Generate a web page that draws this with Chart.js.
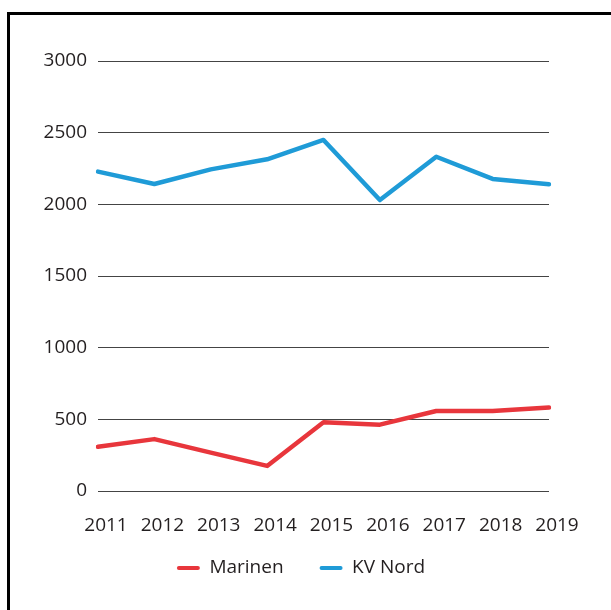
<!DOCTYPE html>
<html>
<head>
<meta charset="utf-8">
<script src="https://cdn.jsdelivr.net/npm/chart.js@4/dist/chart.umd.min.js"></script>
<style>
  html, body { margin: 0; padding: 0; background: #fff; overflow: hidden; }
  #wrap { position: relative; width: 611px; height: 610px; }
  #frame { position: absolute; left: 7px; top: 12px; width: 800px; height: 800px; border-left: 3px solid #000; border-top: 3px solid #000; }
  #c { position: absolute; left: 0; top: 0; }
</style>
</head>
<body>
<div id="wrap">
  <div id="frame"></div>
  <canvas id="c" width="611" height="610"></canvas>
</div>
<script>
'use strict';
// Marinen vs KV Nord, 2011–2019
const YEARS = ['2011', '2012', '2013', '2014', '2015', '2016', '2017', '2018', '2019'];
const MARINEN = [308, 362, 268, 175, 480, 463, 558, 558, 582];
const KV_NORD = [2228, 2142, 2244, 2314, 2449, 2030, 2332, 2177, 2140];
const Y_TICKS = [0, 500, 1000, 1500, 2000, 2500, 3000];

const TXT = '#231f20';
Chart.defaults.font.family = '"Open Sans", sans-serif';
Chart.defaults.font.size = 19;
Chart.defaults.color = TXT;

const RED = '#e8363c', BLUE = '#1f9bd7';

new Chart(document.getElementById('c').getContext('2d'), {
  type: 'line',
  data: {
    labels: YEARS,
    datasets: [
      { label: 'Marinen', data: MARINEN, borderColor: RED, backgroundColor: RED, borderWidth: 4.5, pointRadius: 0, tension: 0, borderCapStyle: 'round', borderJoinStyle: 'round' },
      { label: 'KV Nord', data: KV_NORD, borderColor: BLUE, backgroundColor: BLUE, borderWidth: 4.5, pointRadius: 0, tension: 0, borderCapStyle: 'round', borderJoinStyle: 'round' },
    ],
  },
  options: {
    responsive: false, animation: false,
    layout: { padding: { top: 61, right: 9, bottom: 22.5, left: 0 } },
    plugins: {
      tooltip: { enabled: false },
      legend: {
        position: 'bottom',
        labels: {
          boxWidth: 23, boxHeight: 4, padding: 36, color: TXT,
          useBorderRadius: true, borderRadius: 2,
          generateLabels: ch => Chart.defaults.plugins.legend.labels.generateLabels(ch).map(l => ({ ...l, lineWidth: 0 })),
        },
      },
    },
    scales: {
      x: {
        offset: false,
        grid: { display: false, drawTicks: false },
        border: { display: false },
        // mirror keeps the year labels out of the (short) axis box clip; negative padding pushes them below the plot
        ticks: { mirror: true, padding: -46, labelOffset: 8, maxRotation: 0, autoSkip: false },
        afterFit: s => { s.height = 31.5; s.paddingRight = 62; },
      },
      y: {
        min: 0, max: 3000,
        afterBuildTicks: s => { s.ticks = Y_TICKS.map(v => ({ value: v })); },
        grid: { color: '#444', lineWidth: 1, drawTicks: false },
        border: { display: false },
        ticks: { padding: 11, callback: v => String(v) },
        afterFit: s => { s.width = 98; },
      },
    },
  },
});
</script>
</body>
</html>
